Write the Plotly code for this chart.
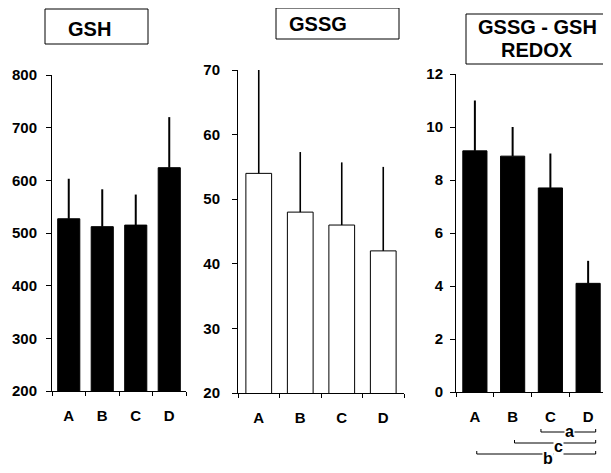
import plotly.graph_objects as go

categories = ["A", "B", "C", "D"]

gsh_values = [527, 512, 515, 624]
gsh_err = [76, 71, 58, 96]

gssg_values = [54.0, 48.0, 46.0, 42.0]
gssg_err = [16.0, 9.3, 9.7, 13.0]

redox_values = [9.1, 8.9, 7.7, 4.1]
redox_err = [1.9, 1.1, 1.3, 0.85]

gsh_ticks = [200, 300, 400, 500, 600, 700, 800]
gssg_ticks = [20, 30, 40, 50, 60, 70]
redox_ticks = [0, 2, 4, 6, 8, 10, 12]

# significance brackets under panel 3: (start index, end index, label)
brackets = [(2, 3, "a"), (1, 3, "c"), (0, 3, "b")]

OFF = 8  # page body margin
W, H = 611 - OFF, 473 - OFF
FONT = "Liberation Sans, Arial, sans-serif"

fig = go.Figure()


def add_bars(vals, errs, xa, ya, fill, lw, width, et):
    fig.add_trace(go.Bar(
        x=categories, y=vals, xaxis=xa, yaxis=ya,
        marker=dict(color=fill, line=dict(color="black", width=lw)),
        error_y=dict(type="data", array=errs, arrayminus=[0] * len(errs),
                     symmetric=False, width=0, thickness=et, color="black"),
        width=width, showlegend=False,
    ))


add_bars(gsh_values, gsh_err, "x", "y", "black", 1, 0.66, 2)
add_bars(gssg_values, gssg_err, "x2", "y2", "white", 1, 0.62, 1.6)
add_bars(redox_values, redox_err, "x3", "y3", "black", 1, 0.64, 2)


def px_x(v):
    return (v - OFF) / W


def px_y(v):
    return 1 - (v - OFF) / H


def xaxis(domain, anchor):
    return dict(type="category", showline=True, linecolor="black", linewidth=1,
                ticks="outside", tickson="boundaries", ticklen=4, tickcolor="black",
                showgrid=False, zeroline=False, fixedrange=True,
                tickfont=dict(family=FONT, size=15, color="black", weight="bold"),
                ticklabelstandoff=11,
                anchor=anchor, domain=domain, range=[-0.5, 3.5])


def yaxis(domain, anchor, rng, tv, standoff):
    return dict(showline=True, linecolor="black", linewidth=1,
                ticks="outside", ticklen=5, tickcolor="black",
                showgrid=False, zeroline=False, fixedrange=True,
                tickfont=dict(family=FONT, size=15, color="black", weight="bold"),
                ticklabelstandoff=standoff,
                anchor=anchor, domain=domain, range=rng, tickvals=tv)


fig.update_layout(
    width=W, height=H,
    margin=dict(l=0, r=0, t=0, b=0, autoexpand=False),
    paper_bgcolor="white", plot_bgcolor="white",
    xaxis=xaxis([px_x(52), px_x(186)], "y"),
    yaxis=yaxis([px_y(391), px_y(75)], "x", [200, 800], gsh_ticks, 6),
    xaxis2=xaxis([px_x(238), px_x(404)], "y2"),
    yaxis2=yaxis([px_y(393), px_y(70)], "x2", [20, 70], gssg_ticks, 9),
    xaxis3=xaxis([px_x(456), px_x(607)], "y3"),
    yaxis3=yaxis([px_y(392), px_y(74)], "x3", [0, 12], redox_ticks, 4),
)

shapes = []
annotations = []


def box(x0, y0, x1, y1):
    shapes.append(dict(type="rect", xref="paper", yref="paper",
                       x0=px_x(x0), x1=px_x(x1), y0=px_y(y1), y1=px_y(y0),
                       line=dict(color="black", width=1)))


def text(s, x, y, size=20):
    annotations.append(dict(xref="paper", yref="paper", x=px_x(x), y=px_y(y),
                            text="<b>" + s + "</b>",
                            showarrow=False, xanchor="center", yanchor="middle",
                            font=dict(family=FONT, size=size, color="black")))


box(45, 9, 148, 44)
text("GSH", 89, 29)
box(276, 8, 399, 39)
text("GSSG", 318, 24)
box(466, 14, 606, 64)
text("GSSG - GSH", 537, 27)
text("REDOX", 537, 50)

# significance brackets
bracket_y = [432, 443, 454]
label_x = [569, 558, 548]
label_y = [431, 446, 458]
for (i0, i1, lab), by, lx, ly in zip(brackets, bracket_y, label_x, label_y):
    start = i0 - 0.25 if i1 - i0 == 1 else i0 + 0.05
    end = i1 + 0.2
    yb = px_y(by)
    yt = px_y(by - 3)
    shapes.append(dict(type="line", xref="x3", yref="paper", x0=start, x1=end,
                       y0=yb, y1=yb, line=dict(color="black", width=1)))
    for xe in (start, end):
        shapes.append(dict(type="line", xref="x3", yref="paper", x0=xe, x1=xe,
                           y0=yb, y1=yt, line=dict(color="black", width=1)))
    annotations.append(dict(xref="paper", yref="paper", x=px_x(lx), y=px_y(ly),
                            text="<b>" + lab + "</b>", showarrow=False,
                            xanchor="center", yanchor="middle", bgcolor="white",
                            borderpad=0,
                            font=dict(family=FONT, size=16, color="black")))

fig.update_layout(shapes=shapes, annotations=annotations)

fig.write_html("out.html")
